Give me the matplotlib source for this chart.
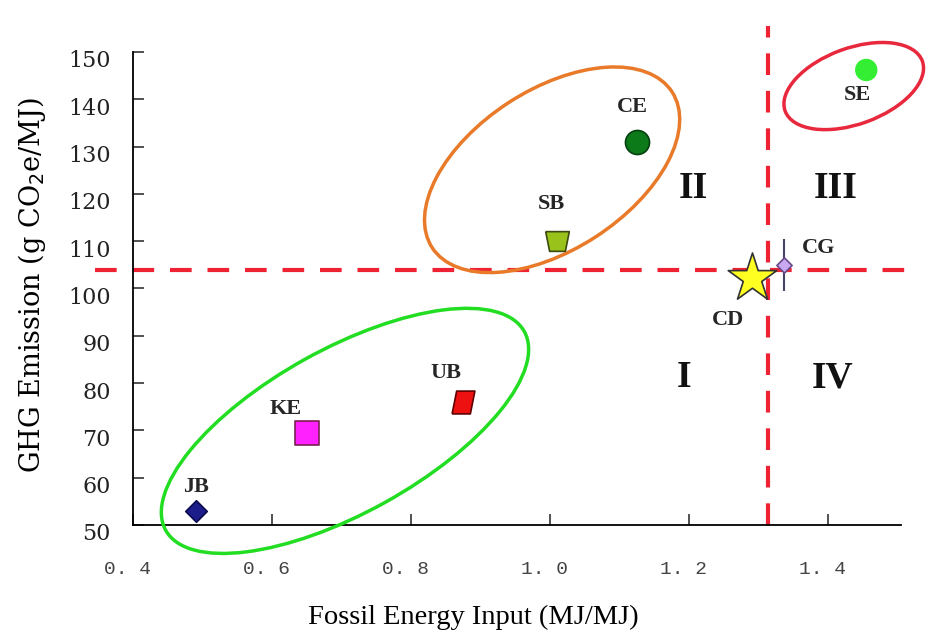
import matplotlib
matplotlib.use("Agg")
import matplotlib.pyplot as plt
from matplotlib.patches import Ellipse
from matplotlib.transforms import ScaledTranslation

# fuel pathways: fossil energy input (MJ/MJ) vs GHG emission (g CO2e/MJ)
names = ["JB", "KE", "UB", "SB", "CE", "CD", "CG", "SE"]
fossil = [0.49, 0.65, 0.875, 1.01, 1.125, 1.29, 1.337, 1.455]
ghg = [53.0, 69.5, 76.0, 110.0, 131.0, 102.2, 105.0, 146.2]
cg_err = 5.5

# reference lines (conventional diesel)
ref_x = 1.314
ref_y = 103.9

xticks = [0.4, 0.6, 0.8, 1.0, 1.2, 1.4]
xticklabels = ["0. 4", "0. 6", "0. 8", "1. 0", "1. 2", "1. 4"]
yticks = [50, 60, 70, 80, 90, 100, 110, 120, 130, 140, 150]

serif = ["Liberation Serif", "DejaVu Serif"]
plt.rcParams["font.family"] = serif

fig = plt.figure(figsize=(9.27, 6.33), dpi=100)
ax = fig.add_axes([133 / 927, 108 / 633, 768 / 927, 473 / 633])
ax.set_xlim(0.4, 1.505)
ax.set_ylim(50, 150)

para = [(-0.5, -0.5), (0.3, -0.5), (0.5, 0.5), (-0.3, 0.5), (-0.5, -0.5)]
trap = [(-0.6, 0.5), (0.6, 0.5), (0.4, -0.5), (-0.4, -0.5), (-0.6, 0.5)]
styles = {
    "JB": dict(marker="D", s=120, c="#1c1c8a", edgecolors="#0a0a50"),
    "KE": dict(marker="s", s=300, c="#ff22ff", edgecolors="#7a2050"),
    "UB": dict(marker=para, s=270, c="#ee1111", edgecolors="#600000"),
    "SB": dict(marker=trap, s=290, c="#99c21a", edgecolors="#3c4a10"),
    "CE": dict(marker="o", s=300, c="#0d7a1a", edgecolors="#064010"),
    "CD": dict(marker="*", s=1350, c="#ffff22", edgecolors="#333333"),
    "CG": dict(marker="D", s=60, c="#c8a8f0", edgecolors="#6a4a8a"),
    "SE": dict(marker="o", s=260, c="#33ee33", edgecolors="none"),
}

# dashed reference lines, drawn beyond the axes
dash = (0, (5.2, 3.8))
ax.plot([0.345, 1.52], [ref_y, ref_y], ls=dash, color="#ee2233",
        lw=3.0, clip_on=False, zorder=2)
ax.plot([ref_x, ref_x], [50, 155.5], ls=dash, color="#ee2233",
        lw=3.0, clip_on=False, zorder=2)

ax.errorbar(fossil[6], ghg[6], yerr=cg_err, fmt="none", ecolor="#444466",
            elinewidth=1.5, capsize=0, zorder=3)
for n, x, y in zip(names, fossil, ghg):
    st = styles[n]
    ax.scatter([x], [y], linewidths=1.2, zorder=4, clip_on=False, **st)

label_off = {"JB": (0, 5.0), "KE": (-0.03, 5.0), "UB": (-0.025, 6.2),
             "SB": (-0.008, 7.8), "CE": (-0.007, 7.3), "CD": (-0.034, -8.9),
             "CG": (0.05, 3.6), "SE": (-0.012, -5.3)}
for n, x, y in zip(names, fossil, ghg):
    dx, dy = label_off[n]
    ax.text(x + dx, y + dy, n, ha="center", va="center", fontsize=16,
            fontweight="bold", color="#262626")

for txt, x, y in [("I", 1.193, 81.1), ("II", 1.206, 121.2),
                  ("III", 1.411, 121.2), ("IV", 1.406, 81.1)]:
    ax.text(x, y, txt, ha="center", va="center", fontsize=27,
            fontweight="bold", color="#111111")

# group ellipses: center (data), semi-axes (px), angle
groups = [((0.705, 69.9), 205, 82, 29, "#22dd22"),
          ((1.003, 125.1), 143, 80, 33, "#e87a2a"),
          ((1.437, 142.8), 73, 38, 20, "#e8283c")]
for (cx, cy), a, b, ang, col in groups:
    tr = fig.dpi_scale_trans + ScaledTranslation(cx, cy, ax.transData)
    ax.add_patch(Ellipse((0, 0), 2 * a / 100, 2 * b / 100, angle=ang,
                         transform=tr, fill=False, edgecolor=col, lw=2.5,
                         clip_on=False, zorder=3))

ax.spines["top"].set_visible(False)
ax.spines["right"].set_visible(False)
ax.spines["left"].set_linewidth(1.3)
ax.spines["bottom"].set_linewidth(1.3)
ax.set_xticks(xticks)
ax.set_xticklabels(xticklabels)
ax.set_yticks(yticks)
ax.tick_params(direction="in", length=8, width=1.1, colors="#222222")
ax.tick_params(axis="y", labelsize=16, pad=16)
ax.tick_params(axis="x", labelsize=14, pad=26)
for t in ax.xaxis.get_major_ticks():
    t.label1.set_family(["Liberation Mono", "DejaVu Sans Mono"])
    t.label1.set_color("#444444")
    t.label1.set_transform(t.label1.get_transform() +
                           ScaledTranslation(-0.06, 0, fig.dpi_scale_trans))
for t in ax.yaxis.get_major_ticks():
    t.label1.set_family(["DejaVu Serif"])
    t.label1.set_transform(t.label1.get_transform() +
                           ScaledTranslation(0, -0.07, fig.dpi_scale_trans))

ax.set_xlabel("Fossil Energy Input (MJ/MJ)", fontsize=20.5)
ax.xaxis.set_label_coords(0.443, -(617 - 525) / 473)
ax.xaxis.label.set_va("center")
ax.set_ylabel("GHG Emission (g CO$_2$e/MJ)", fontsize=19.5,
              family=["DejaVu Serif"])
ax.yaxis.set_label_coords(-(133 - 32) / 768, 0.507)
ax.yaxis.label.set_va("center")

fig.savefig("out.png", dpi=100)
